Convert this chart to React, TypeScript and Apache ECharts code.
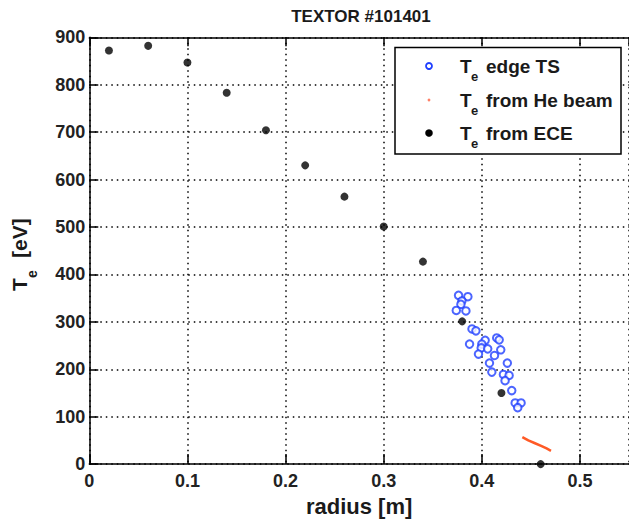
import React, { useEffect, useRef } from 'react';
import * as echarts from 'echarts';

const chartTitle = 'TEXTOR #101401';
const xAxisTitle = 'radius [m]';
const legendLabels = ['edge TS', 'from He beam', 'from ECE'];

// ECE (black dots)
const eceRadius = [0.02, 0.06, 0.10, 0.14, 0.18, 0.22, 0.26, 0.30, 0.34, 0.38, 0.42, 0.46];
const eceTe = [872, 882, 847, 783, 704, 630, 564, 501, 427, 301, 150, 0];

// Edge Thomson scattering (blue open circles)
const tsRadius = [
  0.3763, 0.3858, 0.3797, 0.3787, 0.374, 0.3838, 0.39, 0.394, 0.3875, 0.4034,
  0.4, 0.3994, 0.3966, 0.406, 0.4152, 0.4177, 0.4193, 0.4129, 0.4078, 0.4102,
  0.426, 0.422, 0.4278, 0.4237, 0.4305, 0.434, 0.44, 0.4366,
];
const tsTe = [
  356, 353, 344, 337, 324, 323, 285, 281, 253, 261,
  253, 245, 232, 243, 266, 262, 241, 229, 213, 194,
  213, 189, 187, 176, 155, 129, 129, 119,
];

// He beam (orange line)
const heRadius = [0.4413, 0.4474, 0.4542, 0.461, 0.466, 0.4705];
const heTe = [57, 50, 44, 38, 33, 28];

const FONT = 'Liberation Sans, Arial, sans-serif';

function zip(a: number[], b: number[]) {
  return a.map((v, i) => [v, b[i]]);
}

function txt(text: string, x: number, y: number, size: number, extra: any = {}) {
  const va = extra.va || 'middle';
  const al = extra.al || 'left';
  return {
    type: 'text',
    x,
    y,
    rotation: extra.rotation || 0,
    z: 110,
    style: {
      text,
      fontSize: size,
      fontWeight: extra.weight || 'bold',
      fontFamily: FONT,
      fill: extra.fill || '#1a1a1a',
      textAlign: al,
      align: al,
      textVerticalAlign: va,
      verticalAlign: va,
    },
  };
}

export default function App() {
  const ref = useRef<HTMLDivElement>(null);
  useEffect(() => {
    if (!ref.current) return;
    const chart = echarts.init(ref.current, null, { renderer: 'svg' });
    const dotted = { color: '#000', width: 1.5, type: [1.5, 4] as any };
    const rows = [66, 100, 133];
    const option: any = {
      animation: false,
      backgroundColor: '#fff',
      grid: { left: 89.3, top: 37.3, bottom: 55.3, right: -2 },
      xAxis: [
        {
          type: 'value',
          min: 0,
          max: 0.55,
          interval: 0.1,
          position: 'bottom',
          name: xAxisTitle,
          nameLocation: 'middle',
          nameGap: 24,
          nameTextStyle: { fontSize: 22, fontWeight: 'bold', fontFamily: FONT, color: '#1a1a1a', verticalAlign: 'top' },
          axisLine: { show: true, lineStyle: { color: '#000', width: 1.5 } },
          axisTick: { show: true, inside: true, length: 10, lineStyle: { color: '#000', width: 1.5 } },
          axisLabel: {
            showMaxLabel: false,
            margin: 8,
            fontSize: 18,
            fontWeight: 'bold',
            fontFamily: FONT,
            color: '#222',
          },
          splitLine: { show: true, lineStyle: dotted },
        },
        {
          type: 'value',
          min: 0,
          max: 0.55,
          interval: 0.1,
          position: 'top',
          axisLine: { show: true, lineStyle: { color: '#000', width: 1.5 } },
          axisTick: { show: true, inside: true, length: 9, lineStyle: { color: '#000', width: 1.5 } },
          axisLabel: { show: false },
          splitLine: { show: false },
        },
      ],
      yAxis: {
        type: 'value',
        min: 0,
        max: 900,
        interval: 100,
        axisLine: { show: true, lineStyle: { color: '#000', width: 1.5 } },
        axisTick: { show: true, inside: true, length: 9, lineStyle: { color: '#000', width: 1.5 } },
        axisLabel: {
          margin: 4,
          fontSize: 18,
          fontWeight: 'bold',
          fontFamily: FONT,
          color: '#222',
        },
        splitLine: { show: true, lineStyle: dotted },
      },
      series: [
        {
          name: 'Te edge TS',
          type: 'scatter',
          data: zip(tsRadius, tsTe),
          symbol: 'emptyCircle',
          symbolSize: 7.5,
          itemStyle: { color: '#1f3fff', borderColor: '#1f3fff', borderWidth: 1.8 },
          z: 3,
        },
        {
          name: 'Te from He beam',
          type: 'line',
          data: zip(heRadius, heTe),
          showSymbol: false,
          symbol: 'none',
          lineStyle: { color: '#ff5a26', width: 2.5 },
          z: 3,
        },
        {
          name: 'Te from ECE',
          type: 'scatter',
          data: zip(eceRadius, eceTe),
          symbol: 'circle',
          symbolSize: 8,
          itemStyle: { color: '#000' },
          z: 4,
        },
      ],
      graphic: [
        txt(chartTitle, 361, 16, 17, { al: 'center' }),
        // y axis title: T_e [eV]
        txt('T', 9, 291, 21, { rotation: Math.PI / 2, va: 'top' }),
        txt('e', 25, 278, 14, { rotation: Math.PI / 2, va: 'top' }),
        txt('[eV]', 9, 258, 21, { rotation: Math.PI / 2, va: 'top' }),
        // legend box
        {
          type: 'rect',
          z: 100,
          shape: { x: 395, y: 47.5, width: 226, height: 106.5 },
          style: { fill: '#fff', stroke: '#000', lineWidth: 1.5 },
        },
        {
          type: 'circle',
          z: 110,
          shape: { cx: 429, cy: rows[0], r: 3 },
          style: { fill: '#fff', stroke: '#1f3fff', lineWidth: 1.8 },
        },
        {
          type: 'circle',
          z: 110,
          shape: { cx: 429, cy: rows[1], r: 1.4 },
          style: { fill: '#ff8066' },
        },
        {
          type: 'circle',
          z: 110,
          shape: { cx: 429, cy: rows[2], r: 3.8 },
          style: { fill: '#000' },
        },
        ...rows.flatMap((ry, i) => [
          txt('T', 460, ry, 19),
          txt('e', 471, ry + 10, 13),
          txt(legendLabels[i], 486, ry, 19),
        ]),
      ],
    };
    chart.setOption(option);
    return () => chart.dispose();
  }, []);
  return (
    <div
      ref={ref}
      style={{ position: 'fixed', left: 0, top: 0, width: 629, height: 522, background: '#fff' }}
    />
  );
}
